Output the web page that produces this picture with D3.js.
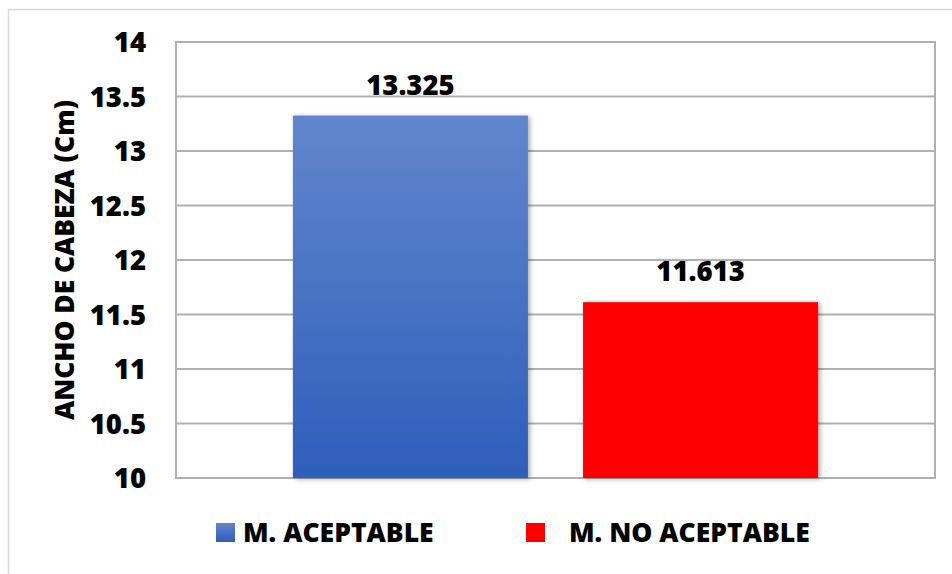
<!DOCTYPE html>
<html>
<head>
<meta charset="utf-8">
<script src="https://cdn.jsdelivr.net/npm/d3@7/dist/d3.min.js"></script>
<style>
  html, body { margin: 0; padding: 0; background: #fff; }
  svg { display: block; font-family: "Open Sans", sans-serif; font-weight: 800; }
</style>
</head>
<body>
<svg id="chart" width="952" height="574"></svg>
<script>
// Mean head width by group
const series = ["M. ACEPTABLE", "M. NO ACEPTABLE"];
const values = [13.325, 11.613];
const valueLabels = ["13.325", "11.613"];
const yTicks = [10, 10.5, 11, 11.5, 12, 12.5, 13, 13.5, 14];
const yTickLabels = ["10", "10.5", "11", "11.5", "12", "12.5", "13", "13.5", "14"];
const yTitle = "ANCHO DE CABEZA (Cm)";

const svg = d3.select("#chart");
const plot = { left: 176, right: 935, top: 42, bottom: 478 };
const FONT = "'Open Sans', sans-serif";

const defs = svg.append("defs");
const grad = defs.append("linearGradient").attr("id", "blueGrad")
  .attr("x1", 0).attr("y1", 0).attr("x2", 0).attr("y2", 1);
grad.append("stop").attr("offset", "0%").attr("stop-color", "#6286cd");
grad.append("stop").attr("offset", "100%").attr("stop-color", "#2e5eba");
const shadow = defs.append("filter").attr("id", "barShadow")
  .attr("x", "-10%").attr("y", "-10%").attr("width", "130%").attr("height", "130%");
shadow.append("feDropShadow").attr("dx", 2).attr("dy", 1).attr("stdDeviation", 2.5)
  .attr("flood-color", "#000").attr("flood-opacity", 0.35);
const fills = ["url(#blueGrad)", "#ff0000"];

// outer chart frame
svg.append("rect").attr("x", 8.5).attr("y", 9.5).attr("width", 960).attr("height", 600)
  .attr("fill", "none").attr("stroke", "#d9d9d9").attr("stroke-width", 1.5);

const y = d3.scaleLinear().domain([10, 14]).range([plot.bottom, plot.top]);
const x = d3.scaleBand().domain(series).range([plot.left, plot.right])
  .paddingInner(0.19).paddingOuter(0.403);

// gridlines
svg.append("g").selectAll("line").data(yTicks).join("line")
  .attr("x1", plot.left).attr("x2", plot.right)
  .attr("y1", d => y(d)).attr("y2", d => y(d))
  .attr("stroke", "#b0b0b0").attr("stroke-width", 2);
// plot border
svg.append("rect").attr("x", plot.left).attr("y", plot.top)
  .attr("width", plot.right - plot.left).attr("height", plot.bottom - plot.top)
  .attr("fill", "none").attr("stroke", "#b0b0b0").attr("stroke-width", 2);

// y axis labels
const yAxis = d3.axisLeft(y).tickValues(yTicks)
  .tickFormat((d, i) => yTickLabels[i]).tickSize(0).tickPadding(0);
const gy = svg.append("g").attr("transform", `translate(146,1)`).call(yAxis);
gy.select(".domain").remove();
gy.selectAll("text").attr("font-size", 27.5).attr("font-family", FONT)
  .attr("font-weight", 800).attr("fill", "#000");

// bars
svg.append("g").selectAll("rect").data(values).join("rect")
  .attr("x", (d, i) => x(series[i]))
  .attr("width", x.bandwidth())
  .attr("y", d => y(d))
  .attr("height", d => y(10) - y(d))
  .attr("fill", (d, i) => fills[i])
  .attr("filter", "url(#barShadow)");

// value labels
svg.append("g").selectAll("text").data(values).join("text")
  .attr("x", (d, i) => x(series[i]) + x.bandwidth() / 2)
  .attr("y", d => y(d) - 21)
  .attr("text-anchor", "middle").attr("font-size", 27.5).attr("fill", "#000")
  .text((d, i) => valueLabels[i]);

// y title
svg.append("text")
  .attr("transform", `translate(74,260) rotate(-90)`)
  .attr("text-anchor", "middle").attr("font-size", 27).attr("fill", "#000")
  .attr("textLength", 320).attr("lengthAdjust", "spacingAndGlyphs")
  .text(yTitle);

// legend
const legendX = [216, 526];
const legendTextX = [243, 569];
const lg = svg.append("g");
series.forEach((s, i) => {
  lg.append("rect").attr("x", legendX[i]).attr("y", 523).attr("width", 19).attr("height", 19)
    .attr("fill", fills[i]);
  lg.append("text").attr("x", legendTextX[i]).attr("y", 542)
    .attr("font-size", 26.5).attr("fill", "#000").text(s);
});
</script>
</body>
</html>
